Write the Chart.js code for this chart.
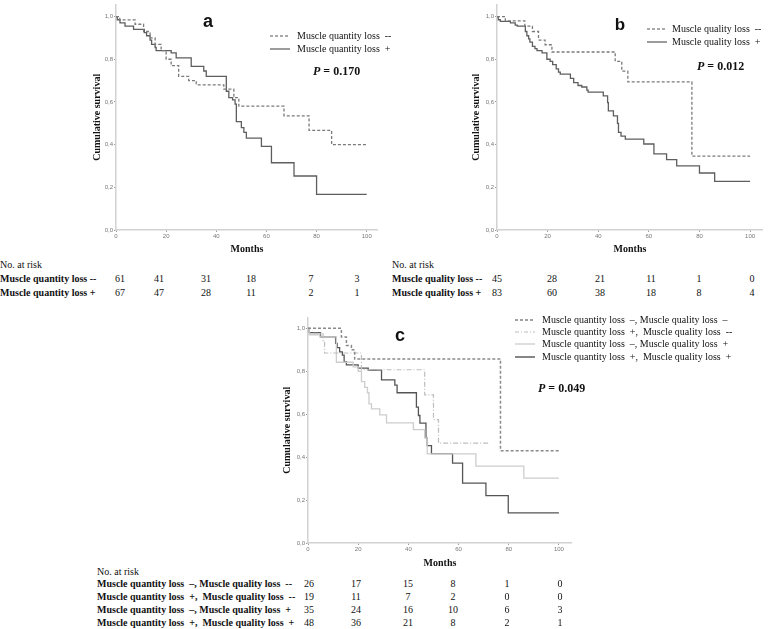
<!DOCTYPE html>
<html>
<head>
<meta charset="utf-8">
<script src="https://cdn.jsdelivr.net/npm/chart.js@4.4.0/dist/chart.umd.min.js"></script>
<style>
body { margin: 0; background: #fff; }
#page { position: relative; width: 779px; height: 629px; overflow: hidden; font-family: "Liberation Serif", "Times New Roman", serif; color: #111; }
#page canvas { position: absolute; }
.t { position: absolute; white-space: nowrap; font-size: 10px; line-height: 12px; }
.b { font-weight: bold; }
.num { transform: translateX(-50%); }
.pv { font-weight: bold; font-size: 12px; }
.letter { position: absolute; font-family: "Liberation Sans", Arial, sans-serif; font-weight: bold; font-size: 18px; line-height: 18px; transform: translate(-50%, -50%); }
.leg { position: absolute; }
</style>
</head>
<body>
<div id="page">
  <canvas id="chartA" width="287" height="255" style="left:91px;top:0px"></canvas>
  <canvas id="chartB" width="293" height="255" style="left:470px;top:0px"></canvas>
  <canvas id="chartC" width="291" height="256" style="left:281px;top:313px"></canvas>
</div>
<script>
const xTicks = [0, 20, 40, 60, 80, 100];
const yTicks = [0, 0.2, 0.4, 0.6, 0.8, 1.0];

// panel a - muscle quantity loss
const aNegTime = [0, 1.5, 7.6, 11, 13.6, 15.6, 18, 20, 22, 25, 29, 32, 43, 47, 49, 67, 77, 86, 100];
const aNegSurv = [1, 0.984, 0.964, 0.93, 0.90, 0.87, 0.84, 0.80, 0.77, 0.72, 0.70, 0.68, 0.66, 0.62, 0.58, 0.535, 0.467, 0.40, 0.40];
const aPosTime = [0, 0.5, 1.6, 3.6, 7, 11.3, 12.2, 13.6, 14.2, 15.6, 16, 22, 24, 30, 35, 36, 44, 45, 46.5, 47.5, 48, 50, 51, 52, 58, 62, 71, 80, 100];
const aPosSurv = [1, 0.985, 0.97, 0.955, 0.94, 0.925, 0.91, 0.89, 0.87, 0.855, 0.84, 0.83, 0.806, 0.767, 0.745, 0.72, 0.65, 0.62, 0.61, 0.59, 0.508, 0.48, 0.457, 0.43, 0.392, 0.315, 0.253, 0.167, 0.167];

// panel b - muscle quality loss
const bNegTime = [0, 3.3, 11, 14, 16.4, 19, 21.7, 46.7, 49.3, 51.7, 77, 100];
const bNegSurv = [1, 0.98, 0.955, 0.93, 0.89, 0.868, 0.834, 0.79, 0.744, 0.694, 0.346, 0.346];
const bPosTime = [0, 0.5, 1.3, 5.3, 7.2, 8, 11.2, 11.8, 12.5, 13, 14, 15, 15.8, 17.8, 19.7, 21, 22, 23.4, 24.3, 25, 29, 30.3, 32, 33.5, 35.5, 36, 42, 43.7, 44, 46, 47.6, 48, 49, 50.7, 58, 62, 67, 71, 80, 86, 100];
const bPosSurv = [1, 0.985, 0.977, 0.97, 0.96, 0.955, 0.93, 0.91, 0.895, 0.88, 0.86, 0.85, 0.84, 0.83, 0.80, 0.79, 0.775, 0.755, 0.74, 0.73, 0.71, 0.69, 0.677, 0.67, 0.655, 0.646, 0.628, 0.597, 0.558, 0.535, 0.5, 0.457, 0.44, 0.426, 0.403, 0.357, 0.33, 0.3, 0.267, 0.228, 0.228];

// panel c - combined groups
const cNegNegTime = [0, 13.3, 15.3, 17.3, 18.6, 76.7, 100];
const cNegNegSurv = [1, 0.96, 0.92, 0.90, 0.857, 0.43, 0.43];
const cPosNegTime = [0, 0.5, 6, 6.6, 21.3, 46.5, 50, 52, 72];
const cPosNegSurv = [1, 0.977, 0.943, 0.885, 0.807, 0.69, 0.575, 0.465, 0.465];
const cNegPosTime = [0, 0.5, 4.7, 11.3, 18, 20, 21.3, 22.6, 23.7, 24.3, 25.3, 28.6, 31.3, 42, 46.5, 47.5, 66.9, 86, 100];
const cNegPosSurv = [1, 0.97, 0.96, 0.842, 0.82, 0.80, 0.752, 0.725, 0.70, 0.648, 0.625, 0.597, 0.56, 0.528, 0.49, 0.415, 0.358, 0.302, 0.302];
const cPosPosTime = [0, 0.5, 5, 11, 11.6, 12.6, 13.7, 14.4, 15.3, 20, 24, 29.3, 34.6, 35.5, 43.2, 44, 44.6, 47, 47.5, 49.2, 57.6, 61.6, 70.9, 79.8, 100];
const cPosPosSurv = [1, 0.98, 0.96, 0.93, 0.91, 0.89, 0.875, 0.845, 0.83, 0.815, 0.805, 0.76, 0.735, 0.70, 0.633, 0.594, 0.558, 0.49, 0.454, 0.416, 0.372, 0.279, 0.221, 0.14, 0.14];

// numbers at risk
const riskA = [[61, 41, 31, 18, 7, 3], [67, 47, 28, 11, 2, 1]];
const riskALabels = ['Muscle quantity loss --', 'Muscle quantity loss +'];
const riskB = [[45, 28, 21, 11, 1, 0], [83, 60, 38, 18, 8, 4]];
const riskBLabels = ['Muscle quality loss --', 'Muscle quality loss +'];
const riskC = [[26, 17, 15, 8, 1, 0], [19, 11, 7, 2, 0, 0], [35, 24, 16, 10, 6, 3], [48, 36, 21, 8, 2, 1]];
const riskCLabels = [
    'Muscle quantity loss&nbsp; –, Muscle quality loss&nbsp; --',
    'Muscle quantity loss&nbsp; +,&nbsp; Muscle quality loss&nbsp; --',
    'Muscle quantity loss&nbsp; –, Muscle quality loss&nbsp; +',
    'Muscle quantity loss&nbsp; +,&nbsp; Muscle quality loss&nbsp; +'
];

const page = document.getElementById('page');

function km(times, surv){
    return times.map((t, i) => ({ x: t, y: surv[i] }));
}

function line(data, color, dash, width){
    return {
        data: data,
        borderColor: color,
        borderWidth: width,
        borderDash: dash,
        stepped: true,
        pointRadius: 0,
        fill: false
    };
}

const tickFont = { family: 'Liberation Sans', size: 6 };
const titleFont = { family: 'Liberation Serif', size: 10, weight: 'bold' };

function makeChart(id, datasets, yWidth, xHeight, xMax, yMax, padTop){
    return new Chart(document.getElementById(id), { // eslint-disable-line
        type: 'line',
        data: { datasets: datasets },
        options: {
            responsive: false,
            animation: false,
            layout: { padding: { top: padTop, left: 0, right: 0, bottom: 0 } },
            plugins: { legend: { display: false }, tooltip: { enabled: false } },
            scales: {
                x: {
                    type: 'linear', min: 0, max: xMax,
                    afterBuildTicks: s => { s.ticks = xTicks.map(v => ({ value: v })); },
                    afterFit: s => { s.height = xHeight; },
                    ticks: { font: tickFont, color: '#777', padding: 1, autoSkip: false, maxRotation: 0 },
                    grid: { display: true, drawOnChartArea: false, drawTicks: true, tickLength: 2, color: '#999' },
                    border: { display: true, color: '#d2d2d2', width: 1.5 },
                    title: { display: true, text: 'Months', font: titleFont, color: '#111', padding: 0 }
                },
                y: {
                    type: 'linear', min: 0, max: yMax,
                    afterBuildTicks: s => { s.ticks = yTicks.map(v => ({ value: v })); },
                    afterFit: s => { s.width = yWidth; },
                    ticks: { font: tickFont, color: '#777', padding: 1, autoSkip: false,
                        callback: v => v.toFixed(1).replace('.', ',') },
                    grid: { display: true, drawOnChartArea: false, drawTicks: true, tickLength: 2, color: '#999' },
                    border: { display: true, color: '#d2d2d2', width: 1.5 },
                    title: { display: true, text: 'Cumulative survival', font: titleFont, color: '#111', padding: 0 }
                }
            }
        }
    });
}

makeChart('chartA', [
    line(km(aNegTime, aNegSurv), '#7a7a7a', [3, 2], 1.3),
    line(km(aPosTime, aPosSurv), '#5e5e5e', [], 1.3)
], 25, 25, 104.5, 1.056, 3);

makeChart('chartB', [
    line(km(bNegTime, bNegSurv), '#7a7a7a', [3, 2], 1.3),
    line(km(bPosTime, bPosSurv), '#5e5e5e', [], 1.3)
], 27, 25, 105.1, 1.056, 3);

makeChart('chartC', [
    line(km(cNegNegTime, cNegNegSurv), '#8a8a8a', [3, 2], 1.5),
    line(km(cPosNegTime, cPosNegSurv), '#bdbdbd', [5, 2, 1, 2], 1.2),
    line(km(cNegPosTime, cNegPosSurv), '#cdcdcd', [], 1.3),
    line(km(cPosPosTime, cPosPosSurv), '#555555', [], 1.3)
], 27, 26, 105.2, 1.05, 4);

// text helpers
function addText(html, left, y, cls){
    const d = document.createElement('div');
    d.className = 't ' + (cls || '');
    d.innerHTML = html;
    d.style.left = left + 'px';
    d.style.top = (y - 6) + 'px';
    page.append(d);
    return d;
}

function addLetter(ch, x, y, size){
    const d = document.createElement('div');
    d.className = 'letter';
    d.textContent = ch;
    d.style.left = x + 'px';
    d.style.top = y + 'px';
    d.style.fontSize = size + 'px';
    page.append(d);
}

function addLegend(items, x0, x1, textLeft, ys){
    items.forEach((it, i) => {
        const svg = document.createElementNS('http://www.w3.org/2000/svg', 'svg');
        svg.setAttribute('width', x1 - x0);
        svg.setAttribute('height', 6);
        svg.classList.add('leg');
        svg.style.left = x0 + 'px';
        svg.style.top = (ys[i] - 3) + 'px';
        const l = document.createElementNS('http://www.w3.org/2000/svg', 'line');
        l.setAttribute('x1', 0);
        l.setAttribute('x2', x1 - x0);
        l.setAttribute('y1', 3);
        l.setAttribute('y2', 3);
        l.setAttribute('stroke', it.color);
        l.setAttribute('stroke-width', it.width);
        if (it.dash) l.setAttribute('stroke-dasharray', it.dash);
        svg.append(l);
        page.append(svg);
        addText(it.text, textLeft, ys[i]);
    });
}

function addRisk(labels, rows, labelLeft, cols, headY, rowYs){
    addText('No. at risk', labelLeft, headY);
    rows.forEach((row, r) => {
        addText(labels[r], labelLeft, rowYs[r], 'b');
        row.forEach((n, c) => addText(String(n), cols[c], rowYs[r], 'num'));
    });
}

// panel a decorations
addLetter('a', 208, 21, 18);
addLegend([
    { text: 'Muscle quantity loss&nbsp; --', color: '#555', dash: '3,2', width: 1.2 },
    { text: 'Muscle quantity loss&nbsp; +', color: '#666', dash: '', width: 1.3 }
], 270, 290, 297, [36, 48.5]);
addText('<i>P</i> = 0.170', 313, 71, 'pv');
addRisk(riskALabels, riskA, 0, [120, 159, 206, 251, 311, 357], 264.5, [279, 293]);

// panel b decorations
addLetter('b', 620, 25, 17);
addLegend([
    { text: 'Muscle quality loss&nbsp; --', color: '#555', dash: '3,2', width: 1.2 },
    { text: 'Muscle quality loss&nbsp; +', color: '#666', dash: '', width: 1.3 }
], 647, 667, 672, [29, 41.7]);
addText('<i>P</i> = 0.012', 697, 66, 'pv');
addRisk(riskBLabels, riskB, 392, [497, 552, 600, 651, 699, 752], 264.5, [279, 293]);

// panel c decorations
addLetter('c', 400, 335, 18);
addLegend([
    { text: 'Muscle quantity loss&nbsp; –, Muscle quality loss&nbsp; –', color: '#444', dash: '3,2', width: 1.2 },
    { text: 'Muscle quantity loss&nbsp; +,&nbsp; Muscle quality loss&nbsp; --', color: '#bbb', dash: '4,2,1,2', width: 1.1 },
    { text: 'Muscle quantity loss&nbsp; –, Muscle quality loss&nbsp; +', color: '#ccc', dash: '', width: 1.3 },
    { text: 'Muscle quantity loss&nbsp; +,&nbsp; Muscle quality loss&nbsp; +', color: '#444', dash: '', width: 1.3 }
], 515, 535, 542, [320, 331.7, 344.3, 356.7]);
addText('<i>P</i> = 0.049', 538, 388, 'pv');
addRisk(riskCLabels, riskC, 97, [309, 356, 408, 453, 507, 560], 571.7, [584.3, 597.3, 610, 622.7]);
</script>
</body>
</html>
